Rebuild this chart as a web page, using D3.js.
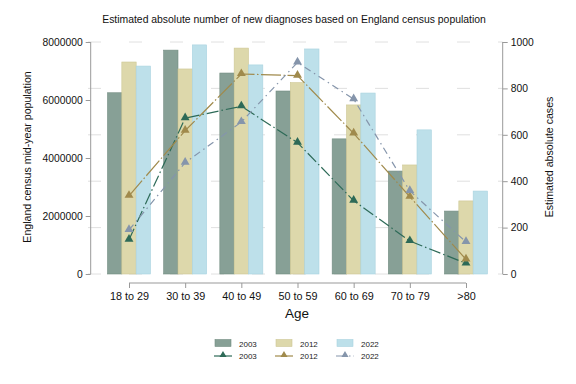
<!DOCTYPE html>
<html><head><meta charset="utf-8">
<script src="https://cdn.jsdelivr.net/npm/d3@7"></script>
<style>
body{margin:0;background:#fff;}
svg{font-family:"Liberation Sans",Arial,sans-serif;}
</style></head>
<body><svg id="c" width="576" height="384"></svg>
<script>
const categories = ["18 to 29","30 to 39","40 to 49","50 to 59","60 to 69","70 to 79",">80"];
const years = ["2003","2012","2022"];
const pop2003 = [6250000,7720000,6930000,6310000,4660000,3550000,2170000];
const pop2012 = [7310000,7070000,7790000,6600000,5830000,3760000,2520000];
const pop2022 = [7170000,7900000,7210000,7760000,6240000,4970000,2860000];
const cases2003 = [148,672,723,566,316,142,46];
const cases2012 = [337,618,862,855,606,333,63];
const cases2022 = [190,480,655,912,754,358,138];
const leftTicks = [0,2000000,4000000,6000000,8000000];
const rightTicks = [0,200,400,600,800,1000];

const popSeries = [pop2003,pop2012,pop2022];
const caseSeries = [cases2003,cases2012,cases2022];
const barFill = ["#87a096","#ddd8ab","#bde0ea"];
const barStroke = ["#728c81","#cdc794","#a9d3df"];
const lineCol = ["#2d6a57","#a08a4c","#8595ab"];
const lineDash = ["12,3,1.5,3","20,2.5,1.5,2.5","7,4,1.5,4"];

const svg = d3.select("#c");
const xL = 90.7, xR = 502.7, yT = 42, yB = 274;
const x = d3.scalePoint().domain(categories).range([129,466]);
const xi = d3.scaleBand().domain(years).range([-21.5,21.5]);
const yL = d3.scaleLinear().domain([0,8000000]).range([yB,yT]);
const yR = d3.scaleLinear().domain([0,1000]).range([yB,yT]);

// gridlines
svg.append("g").selectAll("line").data(rightTicks).join("line")
  .attr("x1",88).attr("x2",xR).attr("y1",d=>yR(d)).attr("y2",d=>yR(d))
  .attr("stroke","#d8d8d8").attr("stroke-width",0.8).attr("stroke-dasharray","13,28");

// bars
years.forEach((yr,k)=>{
  svg.append("g").selectAll("rect").data(popSeries[k]).join("rect")
    .attr("x",(d,i)=>x(categories[i])+xi(yr))
    .attr("width",xi.bandwidth())
    .attr("y",d=>yL(d)).attr("height",d=>yB-yL(d))
    .attr("fill",barFill[k]).attr("stroke",barStroke[k]).attr("stroke-width",0.6);
});

// lines
const tri = d3.symbol().type(d3.symbolTriangle).size(34);
years.forEach((yr,k)=>{
  const line = d3.line().x((d,i)=>x(categories[i])).y(d=>yR(d));
  svg.append("path").datum(caseSeries[k]).attr("d",line)
    .attr("fill","none").attr("stroke",lineCol[k]).attr("stroke-width",1.2)
    .attr("stroke-dasharray",lineDash[k]);
  svg.append("g").selectAll("path").data(caseSeries[k]).join("path")
    .attr("d",tri).attr("transform",(d,i)=>`translate(${x(categories[i])},${yR(d)-0.5})`)
    .attr("fill",lineCol[k]);
});

// axes
const axL = d3.axisLeft(yL).tickValues(leftTicks).tickSize(5).tickPadding(3).tickFormat(d3.format("d"));
const gL = svg.append("g").attr("transform",`translate(${xL},0)`).call(axL);
const axR = d3.axisRight(yR).tickValues(rightTicks).tickSize(5).tickPadding(3).tickFormat(d3.format("d"));
const gR = svg.append("g").attr("transform",`translate(${xR},0)`).call(axR);
const axB = d3.axisBottom(x).tickSize(5).tickPadding(4);
const gB = svg.append("g").attr("transform",`translate(0,283)`).call(axB);
[gL,gR,gB].forEach(g=>{
  g.select(".domain").attr("stroke","#999").attr("stroke-width",1);
  g.selectAll(".tick line").attr("stroke","#999");
  g.selectAll("text").attr("fill","#111").style("font-size","10.3px").style("font-family","Liberation Sans, Arial, sans-serif");
});
gL.select(".domain").attr("d",`M0,${yT}V${yB}`);
gR.select(".domain").attr("d",`M0,${yT}V${yB}`);
gB.select(".domain").attr("d",`M${x(categories[0])},0H${x(categories[6])}`);
gB.selectAll("text").style("font-size","10.8px");

// titles
svg.append("text").attr("x",294).attr("y",23).attr("text-anchor","middle")
  .style("font-size","10.4px").attr("fill","#111")
  .text("Estimated absolute number of new diagnoses based on England census population");
svg.append("text").attr("x",297).attr("y",318).attr("text-anchor","middle")
  .style("font-size","13.5px").attr("fill","#111").text("Age");
svg.append("text").attr("transform","translate(31,157) rotate(-90)").attr("text-anchor","middle")
  .style("font-size","10.6px").attr("fill","#111").text("England census mid-year population");
svg.append("text").attr("transform","translate(553,157) rotate(-90)").attr("text-anchor","middle")
  .style("font-size","10.6px").attr("fill","#111").text("Estimated absolute cases");

// legend
const legX = [215,276,337];
years.forEach((yr,k)=>{
  const lg = svg.append("g");
  lg.append("rect").attr("x",legX[k]).attr("y",339.5).attr("width",16).attr("height",7)
    .attr("fill",barFill[k]).attr("stroke",barStroke[k]).attr("stroke-width",0.6);
  lg.append("text").attr("x",legX[k]+24).attr("y",346.5).style("font-size","8px").attr("fill","#222").text(yr);
  lg.append("line").attr("x1",legX[k]-1).attr("x2",legX[k]+17).attr("y1",356).attr("y2",356)
    .attr("stroke",lineCol[k]).attr("stroke-width",1.2).attr("stroke-dasharray",k===2?"10,3,1.5,3":null);
  lg.append("path").attr("d",d3.symbol().type(d3.symbolTriangle).size(22))
    .attr("transform",`translate(${legX[k]+8},355)`).attr("fill",lineCol[k]);
  lg.append("text").attr("x",legX[k]+24).attr("y",359).style("font-size","8px").attr("fill","#222").text(yr);
});
</script></body></html>
